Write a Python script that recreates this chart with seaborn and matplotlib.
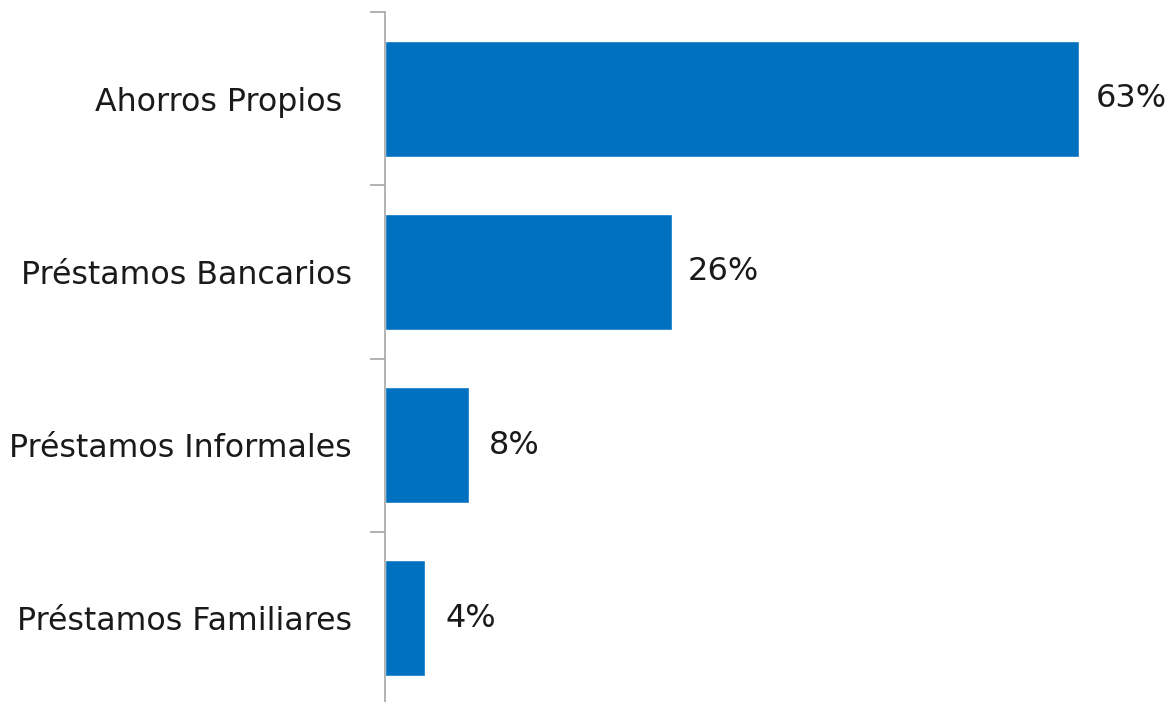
import matplotlib
matplotlib.use("Agg")
import matplotlib.pyplot as plt
import seaborn as sns
import pandas as pd

categories = ["Ahorros Propios ", "Préstamos Bancarios", "Préstamos Informales", "Préstamos Familiares"]
values = [63, 26, 7.6, 3.6]
value_labels = ["63%", "26%", "8%", "4%"]
label_at = [63, 26, 8, 4]

sns.set_style("white")
plt.rcParams["font.family"] = ["DejaVu Sans"]

df = pd.DataFrame({"cat": categories, "val": values})

fig = plt.figure(figsize=(11.72, 7.02), dpi=100)
ax = fig.add_axes([385 / 1172, -3 / 702, 1 - 385 / 1172, 693 / 702])
sns.barplot(data=df, y="cat", x="val", orient="h", color="#0070C0", saturation=1,
            width=0.67, ax=ax)

ax.set_xlim(0, (1172 - 385) / 11.02)
ax.set_ylim(3.5, -0.5)
ax.set_xlabel("")
ax.set_ylabel("")
ax.set_xticks([])
ax.set_yticks([-0.5, 0.5, 1.5, 2.5, 3.5], minor=False)
ax.set_yticklabels([])
ax.set_yticks([0, 1, 2, 3], minor=True)
ax.set_yticklabels(categories, minor=True)
ax.tick_params(axis="y", which="major", length=11, width=1.2, color="#A6A6A6", left=True)
ax.tick_params(axis="y", which="minor", length=0, pad=24, labelsize=22.8, labelcolor="#1a1a1a")

for s in ["top", "right", "bottom"]:
    ax.spines[s].set_visible(False)
ax.spines["left"].set_color("#A6A6A6")
ax.spines["left"].set_linewidth(1.2)

for i, (lx, txt) in enumerate(zip(label_at, value_labels)):
    ax.annotate(txt, xy=(lx, i), xytext=(16, 0), textcoords="offset pixels",
                ha="left", va="center", fontsize=23, color="#1a1a1a")

fig.savefig("out.png", dpi=100)
